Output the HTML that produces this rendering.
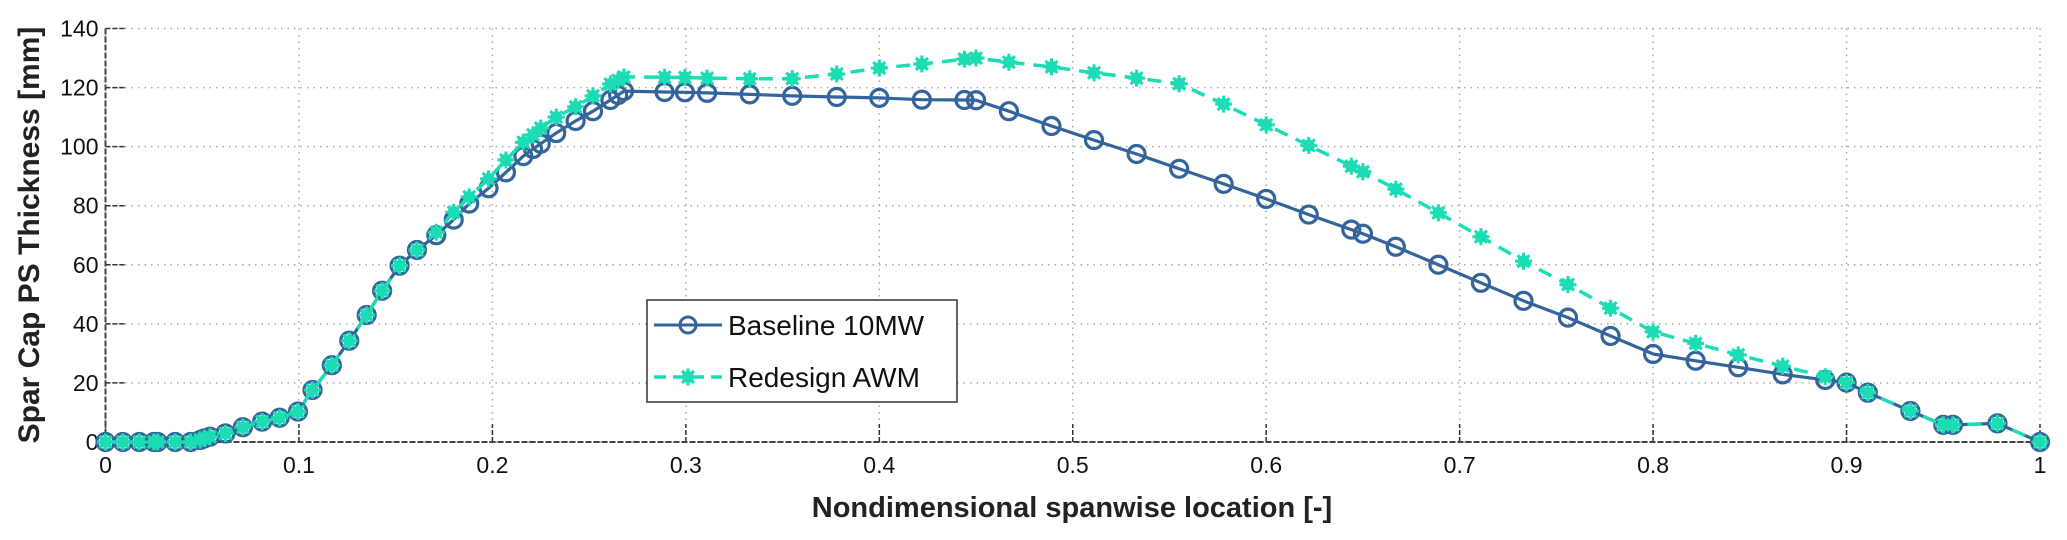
<!DOCTYPE html>
<html><head><meta charset="utf-8"><style>
html,body{margin:0;padding:0;background:#fff;}
svg{display:block;font-family:"Liberation Sans",Arial,sans-serif;}
</style></head><body>
<svg id="chart" width="2067" height="540" viewBox="0 0 2067 540">
<g id="grid"></g>
<g id="axes"></g>
<g id="series"></g>
<text x="1072" y="517" text-anchor="middle" font-size="29" font-weight="bold" fill="#222">Nondimensional spanwise location [-]</text>
<text transform="translate(39,235) rotate(-90)" text-anchor="middle" font-size="30" font-weight="bold" fill="#222">Spar Cap PS Thickness [mm]</text>
<g>
<rect x="647" y="300" width="310" height="102" fill="#fff" stroke="#333" stroke-width="1.5"/>
<g>
<line x1="654" y1="325" x2="722" y2="325" stroke="#33649b" stroke-width="3"/>
<circle cx="688" cy="325" r="8" fill="none" stroke="#33649b" stroke-width="3"/>
<text x="728" y="335" font-size="28" fill="#111">Baseline 10MW</text>
</g>
<g>
<line x1="654" y1="377" x2="722" y2="377" stroke="#1cdcb4" stroke-width="3.5" stroke-dasharray="12,7"/>
<g id="legstar"></g>
<text x="728" y="387" font-size="28" fill="#111">Redesign AWM</text>
</g>
</g>
</svg>
<script>
const xs=[0,0.009,0.0175,0.025,0.027,0.036,0.044,0.049,0.051,0.054,0.062,0.071,0.081,0.09,0.0995,0.107,0.117,
0.126,0.135,0.143,0.152,0.161,0.171,0.18,0.188,0.198,0.207,0.216,0.221,0.225,0.233,0.243,0.252,0.261,0.265,0.268,
0.289,0.2995,0.311,0.333,0.355,0.378,0.4,0.422,0.444,0.45,0.467,0.489,
0.511,0.533,0.555,0.578,0.6,0.622,0.644,0.65,0.667,0.689,0.711,0.733,
0.756,0.778,0.8,0.822,0.844,0.867,0.889,0.9,0.911,0.933,0.95,0.955,0.978,1];
const baseline=[0,0,0,0,0,0,0,0.7,1.2,1.8,2.9,5,6.9,8.2,10.3,17.6,26,
34.3,43,51.2,59.7,65,70,75.3,80.7,85.9,91.3,96.8,99.2,101,104.6,108.7,112,115.8,117.5,118.8,
118.5,118.4,118.2,117.7,117.2,116.8,116.5,115.9,115.8,115.7,112,107,
102.2,97.5,92.5,87.4,82.3,77,71.9,70.5,66.1,60,53.9,47.8,
42.1,35.9,29.8,27.5,25.3,22.9,21,20.1,16.7,10.5,5.8,5.8,6.3,0];
const redesign=[0,0,0,0,0,0,0,0.7,1.2,1.8,2.9,5,6.9,8.2,10.3,17.6,26,
34.3,43,51.2,59.7,65,71,77.8,83,89.1,95.5,101.5,104,106.3,110,113.5,117.2,121.2,122.5,123.6,
123.5,123.4,123.2,123,123,124.6,126.6,128,129.6,130,128.6,127,
125,123.2,121.3,114.4,107.4,100.4,93.4,91.5,85.6,77.6,69.5,61.2,
53.3,45.3,37.3,33.4,29.5,25.7,22.1,20.1,16.7,10.5,5.8,5.8,6.3,0];
const xTicks=[0,0.1,0.2,0.3,0.4,0.5,0.6,0.7,0.8,0.9,1];
const xTickLabels=["0","0.1","0.2","0.3","0.4","0.5","0.6","0.7","0.8","0.9","1"];
const yTicks=[0,20,40,60,80,100,120,140];

const NS="http://www.w3.org/2000/svg";
const X0=105.5,X1=2040,Y0=442,Y1=28.5;
const sx=v=>X0+(X1-X0)*v;
const sy=v=>Y0-(Y0-Y1)*v/140;
function mk(tag,attrs,parent){const e=document.createElementNS(NS,tag);for(const k in attrs)e.setAttribute(k,attrs[k]);parent.appendChild(e);return e;}
const grid=document.getElementById('grid'),axes=document.getElementById('axes'),ser=document.getElementById('series');

xTicks.forEach((t,i)=>{
  const g=mk('line',{x1:sx(t),x2:sx(t),y1:Y1,y2:Y0,stroke:'#aaa','stroke-width':1.5,'stroke-dasharray':'1.5,5'},grid);
  
  
  const tk=mk('line',{x1:sx(t),x2:sx(t),y1:Y0,y2:Y0-18,stroke:'#333','stroke-width':1.5,'stroke-dasharray':'5,2'},axes);
  
  
  const lb=mk('text',{x:sx(t),y:Y0+31,'text-anchor':'middle','font-size':23,fill:'#111'},axes);
  lb.textContent=xTickLabels[i];
  
  
});
yTicks.forEach(t=>{
  const g=mk('line',{x1:X0,x2:X1,y1:sy(t),y2:sy(t),stroke:'#aaa','stroke-width':1.5,'stroke-dasharray':'1.5,5'},grid);
  
  
  const tk=mk('line',{x1:X0,x2:X0+20,y1:sy(t),y2:sy(t),stroke:'#333','stroke-width':1.5,'stroke-dasharray':'5,2'},axes);
  
  
  const lb=mk('text',{x:X0-7,y:sy(t)+8,'text-anchor':'end','font-size':23,fill:'#111'},axes);
  lb.textContent=String(t);
  
  
});
const ya=mk('line',{x1:X0,x2:X0,y1:Y1,y2:Y0,stroke:'#444','stroke-width':2,'stroke-dasharray':'6,2'},axes);


const xa=mk('line',{x1:X0,x2:X1,y1:Y0,y2:Y0,stroke:'#444','stroke-width':2,'stroke-dasharray':'6,2'},axes);



const BC='#33649b',RC='#1cdcb4';
function star(cx,cy,parent){
  const g=mk('g',{},parent);
  mk('circle',{cx:cx,cy:cy,r:6,fill:RC},g);
  for(let a=0;a<4;a++){const an=a*Math.PI/4;const dx=8.5*Math.cos(an),dy=8.5*Math.sin(an);
    mk('line',{x1:cx-dx,y1:cy-dy,x2:cx+dx,y2:cy+dy,stroke:RC,'stroke-width':3},g);}
  return g;
}
const bl=mk('polyline',{points:xs.map((x,i)=>sx(x)+','+sy(baseline[i])).join(' '),fill:'none',stroke:BC,'stroke-width':3.2},ser);


xs.forEach((x,i)=>{
  const c=mk('circle',{cx:sx(x),cy:sy(baseline[i]),r:8.5,fill:'none',stroke:BC,'stroke-width':3.2},ser);
  
  
});
const rl=mk('polyline',{points:xs.map((x,i)=>sx(x)+','+sy(redesign[i])).join(' '),fill:'none',stroke:RC,'stroke-width':3.5,'stroke-dasharray':'14,9'},ser);


xs.forEach((x,i)=>{
  const s=star(sx(x),sy(redesign[i]),ser);
  
  
});
star(688,377,document.getElementById('legstar'));
</script>
</body></html>
